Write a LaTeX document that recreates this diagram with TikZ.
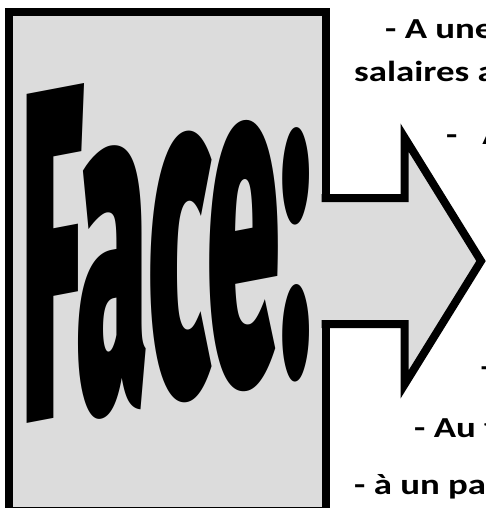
\documentclass[tikz,border=0pt]{standalone}
\usepackage{fontspec}
\setmainfont{Carlito}
\newfontfamily\facefont{Fira Sans Black}
\usetikzlibrary{positioning}
\definecolor{panelgray}{RGB}{220,220,220}

\begin{document}
\begin{tikzpicture}[x=1pt,y=-1pt,
  frame/.style={draw=black,line width=8pt,fill=panelgray},
  note/.style={anchor=base west,inner sep=0pt,font=\bfseries\fontsize{29}{32}\selectfont}]
  \useasboundingbox (0,0) rectangle (486,508);
  % grey panel
  \draw[frame] (9,12) rectangle (325.5,510.5);
  % big arrow out of the panel
  \filldraw[frame] (321.5,198) -- (404.5,198) -- (404.5,137.5) -- (481,261)
    -- (404.5,384.5) -- (404.5,324) -- (321.5,324);
  % the word
  \begin{scope}[shift={(21,425)},yslant=0.19]
    \node[transform shape,anchor=base west,inner sep=0pt] (face) at (0,0)
      {\resizebox{290pt}{328pt}{\facefont Face:}};
  \end{scope}
  % notes on the right
  \node[note] (l1) at (385,38.3) {\scalebox{1.27}[1]{- A une}};
  \node[note] (l2) at (354,81.7) {\scalebox{1.27}[1]{salaires a}};
  \node[note] (l3) at (446,144.5) {\scalebox{1.27}[1]{-~~~A}};
  \node[note] (l4) at (480.5,376) {\scalebox{1.27}[1]{-}};
  \node[note] (l5) at (414,437.5) {\scalebox{1.27}[1]{- Au t}};
  \node[note] (l6) at (354,494) {\scalebox{1.27}[1]{- à un pa}};
\end{tikzpicture}
\end{document}
